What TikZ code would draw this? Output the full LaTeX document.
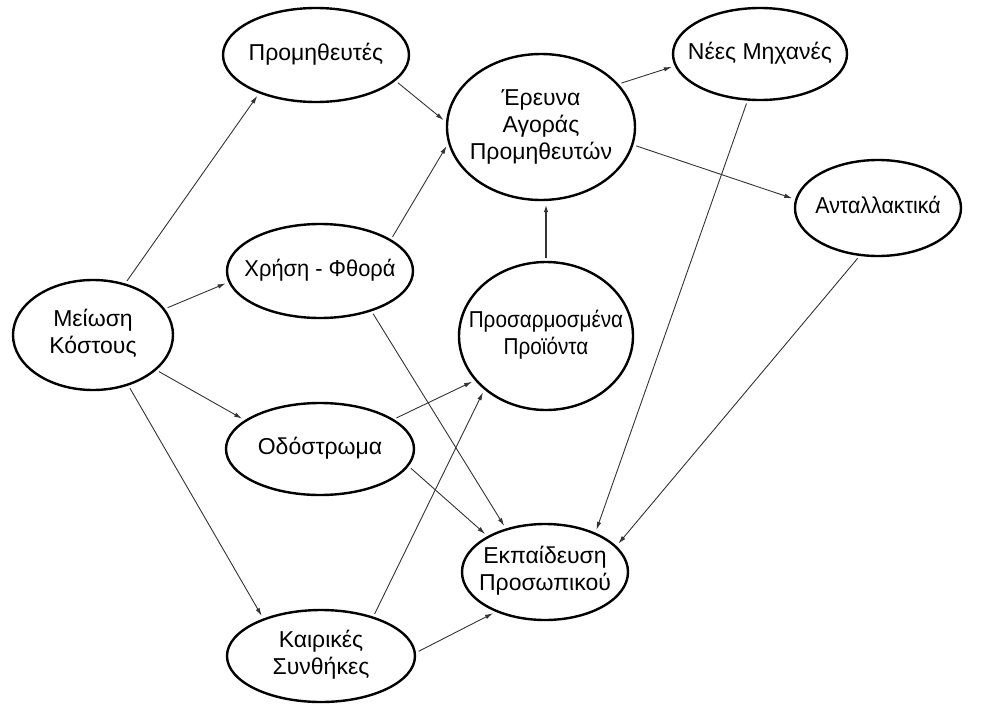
\documentclass[tikz,border=0pt]{standalone}
\usepackage{graphicx}
\usepackage{fontspec}
\setmainfont{Liberation Sans}
\usetikzlibrary{shapes.geometric,arrows.meta}

% centred text block of zero width (optionally narrowed), so the oval keeps its own size
\newcommand\ovaltext[2][1]{\makebox[0pt]{\scalebox{#1}[1]{\begin{tabular}{@{}c@{}}#2\end{tabular}}}}

\tikzset{
  oval/.style={ellipse, draw=black, line width=2.4pt, inner sep=0pt,
    font=\fontsize{23}{27}\selectfont},
  link/.style={draw=black!80, line width=0.9pt,
    -{Latex[length=8pt,width=4.5pt]}, shorten <=3pt, shorten >=3pt},
  mainlink/.style={link, line width=1.8pt}
}

\begin{document}
\begin{tikzpicture}[x=1pt,y=-1pt]
\useasboundingbox (0,0) rectangle (991,704);

% nodes
\node[oval, minimum width=160pt, minimum height=110pt] (cost) at (93,335) {\ovaltext{Μείωση\\Κόστους}};
\node[oval, minimum width=186pt, minimum height=94pt]  (supp) at (316,55)  {\ovaltext{Προμηθευτές}};
\node[oval, minimum width=186pt, minimum height=94pt]  (wear) at (320,271) {\ovaltext[0.95]{Χρήση - Φθορά}};
\node[oval, minimum width=188pt, minimum height=92pt]  (road) at (320,449) {\ovaltext{Οδόστρωμα}};
\node[oval, minimum width=188pt, minimum height=92pt]  (wthr) at (321,656) {\ovaltext{Καιρικές\\Συνθήκες}};
\node[oval, minimum width=188pt, minimum height=146pt] (rsch) at (541,127) {\ovaltext{Έρευνα\\Αγοράς\\Προμηθευτών}};
\node[oval, minimum width=174pt, minimum height=148pt] (prod) at (546,336) {\ovaltext[0.9]{Προσαρμοσμένα\\Προϊόντα}};
\node[oval, minimum width=166pt, minimum height=96pt]  (train) at (545,572) {\ovaltext{Εκπαίδευση\\Προσωπικού}};
\node[oval, minimum width=174pt, minimum height=92pt]  (mach) at (760,54)  {\ovaltext{Νέες Μηχανές}};
\node[oval, minimum width=166pt, minimum height=96pt]  (spare) at (878,208) {\ovaltext[0.93]{Ανταλλακτικά}};

% connectors
\draw[link] (cost.58)  -- (supp.214);
\draw[link] (cost.20)  -- (wear.187);
\draw[link] (cost.331) -- (road.159);
\draw[link] (cost.305) -- (wthr.147);
\draw[link] (supp.342) -- (rsch.177);
\draw[link] (wear.24)  -- (rsch.190);
\draw[link] (wear.322) -- (train.132);
\draw[link] (road.22)  -- (prod.212);
\draw[link] (road.349) -- (train.148);
\draw[link] (wthr.37)  -- (prod.221);
\draw[link] (wthr.2)   -- (train.219);
\draw[mainlink] (prod.north) -- (prod.north |- rsch.south);
\draw[link] (rsch.29)  -- (mach.188);
\draw[link] (rsch.349) -- (spare.174);
\draw[link] (mach.255) -- (train.38);
\draw[link] (spare.249) -- (train.20);
\end{tikzpicture}
\end{document}
